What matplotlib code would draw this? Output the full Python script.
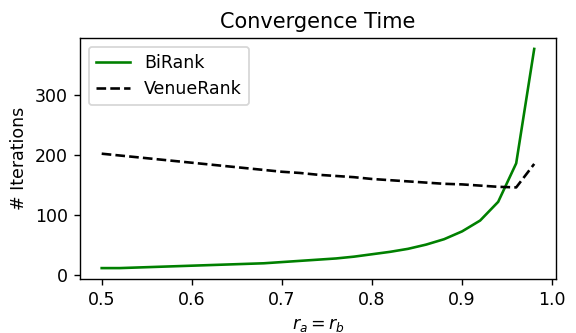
import matplotlib.pyplot as plt

# r_a = r_b values
r = [0.50, 0.52, 0.54, 0.56, 0.58, 0.60, 0.62, 0.64, 0.66, 0.68, 0.70, 0.72,
     0.74, 0.76, 0.78, 0.80, 0.82, 0.84, 0.86, 0.88, 0.90, 0.92, 0.94, 0.96, 0.98]

birank = [12, 12, 13, 14, 15, 16, 17, 18, 19, 20, 22, 24,
          26, 28, 31, 35, 39, 44, 51, 60, 73, 91, 122, 186, 376]

venuerank = [202, 199, 196, 193, 190, 187, 184, 181, 178, 175, 172, 170,
             167, 165, 163, 160, 158, 156, 154, 152, 151, 149, 147, 146, 185]

# rendered at a higher dpi so text looks like the original export
DPI = 125
fig, ax = plt.subplots(figsize=(576 / DPI, 333 / DPI), dpi=DPI)
fig.subplots_adjust(left=0.139, right=0.965, top=0.886, bottom=0.162)

ax.plot(r, birank, color="green", linestyle="-", label="BiRank")
ax.plot(r, venuerank, color="black", linestyle="--", label="VenueRank")

ax.set_xlabel(r"$r_a = r_b$")
ax.set_ylabel("# Iterations")
ax.set_title("Convergence Time")
ax.legend(loc="upper left")

fig.savefig("out.png", dpi=DPI)
